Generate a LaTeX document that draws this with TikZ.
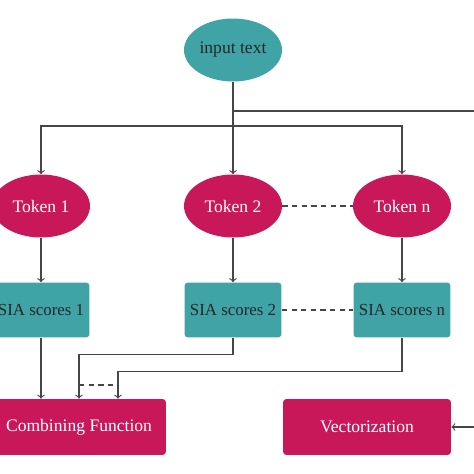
\documentclass[tikz,border=0pt]{standalone}
\usepackage{fontspec}
\setmainfont{Liberation Serif}
\usetikzlibrary{shapes.geometric, positioning}

\definecolor{tealfill}{RGB}{64,164,167}
\definecolor{rosefill}{RGB}{200,24,90}
\definecolor{linegray}{RGB}{70,70,70}

\begin{document}
\begin{tikzpicture}[x=0.02cm, y=-0.02cm,
    font=\fontsize{10}{12}\selectfont,
    tealoval/.style={ellipse, fill=tealfill, text=black!85, minimum width=1.96cm, minimum height=1.26cm, inner sep=0pt},
    roseoval/.style={ellipse, fill=rosefill, text=white, minimum width=1.96cm, minimum height=1.26cm, inner sep=0pt},
    scorebox/.style={rectangle, rounded corners=2pt, fill=tealfill, text=black!85, inner xsep=0pt, minimum width=1.94cm, minimum height=1.1cm, font=\fontsize{9.6}{12}\selectfont},
    funcbox/.style={rectangle, rounded corners=2pt, fill=rosefill, text=white, minimum height=1.12cm},
    wire/.style={draw=linegray, line width=0.65pt},
    dashwire/.style={draw=linegray, line width=0.65pt, dash pattern=on 3pt off 2.5pt}]
\clip (0,0) rectangle (474,474);
\fill[white] (0,0) rectangle (474,474);

% nodes
\node[tealoval] (input) at (233,50) {input text};
\node[roseoval] (tok1) at (41,206) {Token 1};
\node[roseoval] (tok2) at (233,206) {Token 2};
\node[roseoval] (tokn) at (402,206) {Token n};
\node[scorebox] (sia1) at (41,310) {SIA scores 1};
\node[scorebox] (sia2) at (233,310) {SIA scores 2};
\node[scorebox] (sian) at (402,310) {SIA scores n};
\node[funcbox, minimum width=3.48cm] (comb) at (79,427) {Combining Function};
\node[funcbox, minimum width=3.36cm] (vec) at (367,427) {Vectorization};

% input to tokens
\coordinate (split) at (233,126);
\coordinate (branch) at (233,111);
\draw[wire, ->] (input) -- (tok2);
\draw[wire, ->] (split) -| (tok1);
\draw[wire, ->] (split) -| (tokn);
\draw[wire, ->] (branch) -- (490,111) |- (vec);

% tokens to scores
\draw[wire, ->] (tok1) -- (sia1);
\draw[wire, ->] (tok2) -- (sia2);
\draw[wire, ->] (tokn) -- (sian);
\draw[dashwire] (tok2) -- (tokn);
\draw[dashwire] (sia2) -- (sian);

% scores to combining function
\draw[wire, ->] (sia1) -- (sia1 |- comb.north);
\draw[wire, ->] (sia2.south) -- ++(0,17) -| (comb.north);
\draw[wire, ->] (sian.south) -- ++(0,34) -| ([xshift=0.78cm]comb.north);
\draw[dashwire] (79,385) -- (118,385);

\end{tikzpicture}
\end{document}
